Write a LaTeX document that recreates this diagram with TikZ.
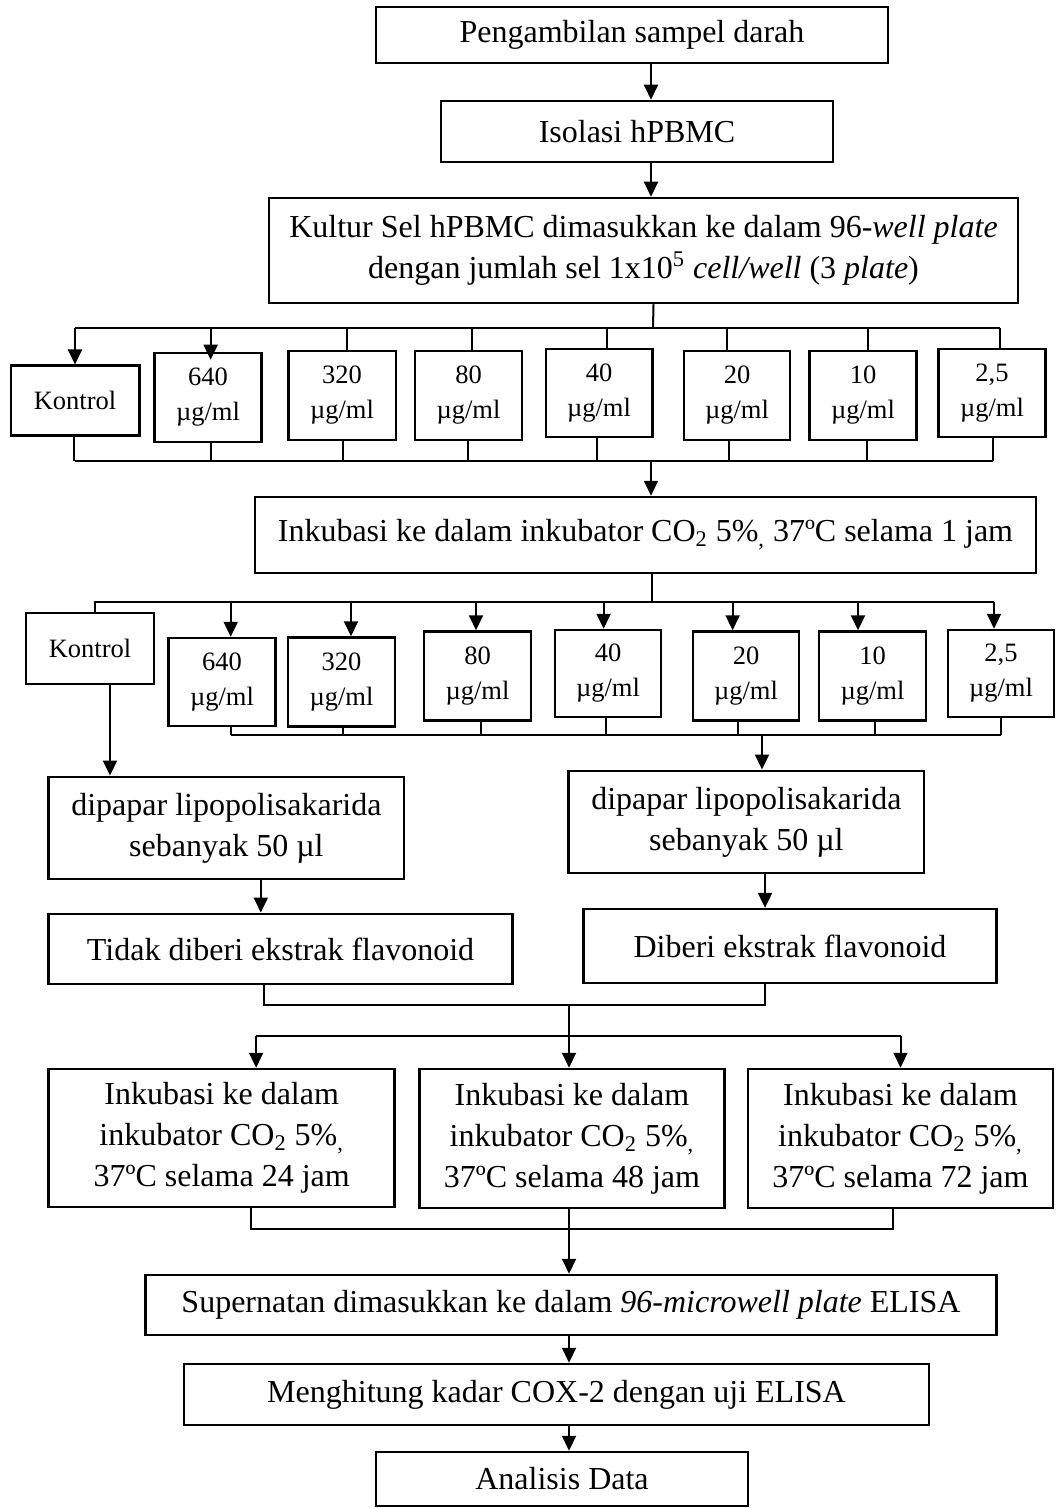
\documentclass[tikz,border=0pt]{standalone}
\usepackage{fontspec}
\setmainfont{Liberation Serif}
\usetikzlibrary{arrows.meta,calc}
\tikzset{
  box/.style={draw, line width=1.25pt, inner sep=0pt, align=center, font=\fontsize{16}{20.5}\selectfont},
  sbox/.style={box, font=\fontsize{13.25}{17.5}\selectfont},
  ln/.style={line width=1pt},
  arr/.style={line width=1pt, -{Triangle[length=7.5pt,width=7pt]}},
}
\begin{document}
\begin{tikzpicture}[x=0.5pt,y=-0.5pt]
\useasboundingbox[fill=white] (0,0) rectangle (1055,1508);
% main column
\node[box, minimum width=256pt, minimum height=28pt] (b1) at (632,35) {Pengambilan sampel darah};
\node[box, minimum width=196pt, minimum height=30.5pt] (b2) at (637,131.5) {Isolasi hPBMC};
\node[box, minimum width=374.5pt, minimum height=52.5pt] (b3) at (643.5,250.5)
  {Kultur Sel hPBMC dimasukkan ke dalam 96-\textit{well plate}\\dengan jumlah sel 1x10\textsuperscript{5} \textit{cell/well} (3 \textit{plate})};
\draw[arr] (b1.south -| 651,0) -- (b2.north -| 651,0);
\draw[arr] (b2.south -| 651,0) -- (b3.north -| 651,0);
% row 1
\node[sbox, minimum width=64.25pt, minimum height=35pt] (k1) at (75,400.7) {Kontrol};
\node[sbox, minimum width=53.5pt, minimum height=44.5pt] (a1) at (208,397.5) {640\\µg/ml};
\node[sbox, minimum width=53.75pt, minimum height=44.5pt] (a2) at (342,395.5) {320\\µg/ml};
\node[sbox, minimum width=53.5pt, minimum height=44.5pt] (a3) at (468.5,395.5) {80\\µg/ml};
\node[sbox, minimum width=53.25pt, minimum height=44pt] (a4) at (599,393) {40\\µg/ml};
\node[sbox, minimum width=53pt, minimum height=44.5pt] (a5) at (737,395.5) {20\\µg/ml};
\node[sbox, minimum width=53.3pt, minimum height=44.5pt] (a6) at (863,395.5) {10\\µg/ml};
\node[sbox, minimum width=53.3pt, minimum height=44pt] (a7) at (992,393) {2,5\\µg/ml};
\coordinate (j1) at (653,328);
\draw[ln] ([xshift=5pt]b3.south) -- (j1);
\draw[ln] (k1.north |- j1) -- ([xshift=3.75pt]a7.north |- j1);
\draw[arr] (k1.north |- j1) -- (k1.north);
\draw[arr] ([xshift=1.3pt]a1.north |- j1) -- ([xshift=1.3pt,yshift=-4pt]a1.north);
\foreach \n/\s in {a2/2.5,a3/1.5,a4/4,a5/-5,a6/2.5,a7/3.75}
  \draw[ln] ([xshift=\s pt]\n.north |- j1) -- ([xshift=\s pt]\n.north);
\coordinate (j2) at (651,461);
\draw[ln] (k1.south |- j2) -- ([xshift=0.5pt]a7.south |- j2);
\foreach \n/\s in {k1/-0.5,a1/1.3,a2/0.5,a3/-0.5,a4/-1,a5/-4,a6/2,a7/0.5}
  \draw[ln] ([xshift=\s pt]\n.south) -- ([xshift=\s pt]\n.south |- j2);
% incubation 1 h
\node[box, minimum width=390.5pt, minimum height=38pt] (i1) at (645.5,535)
  {Inkubasi ke dalam inkubator CO\textsubscript{2} 5\%\textsubscript{,} 37ºC selama 1 jam};
\draw[arr] (j2) -- (j2 |- i1.north);
% row 2
\node[sbox, minimum width=64pt, minimum height=35.5pt] (k2) at (90,648.5) {Kontrol};
\node[sbox, minimum width=53.5pt, minimum height=44pt] (p1) at (222,682) {640\\µg/ml};
\node[sbox, minimum width=53.5pt, minimum height=44.5pt] (p2) at (341.5,682) {320\\µg/ml};
\node[sbox, minimum width=53.5pt, minimum height=44.5pt] (p3) at (477.5,676) {80\\µg/ml};
\node[sbox, minimum width=53pt, minimum height=43.5pt] (p4) at (608,673.5) {40\\µg/ml};
\node[sbox, minimum width=53pt, minimum height=44.5pt] (p5) at (746,676) {20\\µg/ml};
\node[sbox, minimum width=53.5pt, minimum height=44.5pt] (p6) at (872.5,676) {10\\µg/ml};
\node[sbox, minimum width=53.2pt, minimum height=43.5pt] (p7) at (1001,673.5) {2,5\\µg/ml};
\coordinate (j3) at (652,602);
\draw[ln] (j3 |- i1.south) -- (j3);
\draw[ln] ([xshift=2.5pt]k2.north) |- ([xshift=-3.5pt]p7.north |- j3);
\foreach \n/\s in {p1/4.35,p2/4.75,p3/-0.75,p4/-2.2,p5/-6.7,p6/-7.25,p7/-3.5}
  \draw[arr] ([xshift=\s pt]\n.north |- j3) -- ([xshift=\s pt]\n.north);
\coordinate (j4) at (762,735);
\draw[ln] ([xshift=4.35pt]p1.south |- j4) -- (p7.south |- j4);
\foreach \n/\s in {p1/4.35,p2/0.75,p3/1.75,p4/-1,p5/-4,p6/1.25,p7/0}
  \draw[ln] ([xshift=\s pt]\n.south) -- ([xshift=\s pt]\n.south |- j4);
% LPS exposure
\node[box, minimum width=177.7pt, minimum height=51.2pt] (d1) at (226.4,828) {dipapar lipopolisakarida\\sebanyak 50 µl};
\node[box, minimum width=177.7pt, minimum height=51.2pt] (d2) at (746.4,822) {dipapar lipopolisakarida\\sebanyak 50 µl};
\draw[arr] ([xshift=10pt]k2.south) -- ([xshift=10pt]k2.south |- d1.north);
\draw[arr] (j4) -- (j4 |- d2.north);
\node[box, minimum width=231.9pt, minimum height=35.2pt] (t1) at (280.6,949) {Tidak diberi ekstrak flavonoid};
\node[box, minimum width=206.5pt, minimum height=36.9pt] (t2) at (790,946) {Diberi ekstrak flavonoid};
\draw[arr] ([xshift=17.2pt]d1.south) -- ([xshift=17.2pt]d1.south |- t1.north);
\draw[arr] ([xshift=9.3pt]d2.south) -- ([xshift=9.3pt]d2.south |- t2.north);
\coordinate (j5) at (569,1005);
\coordinate (j6) at (569,1036);
\draw[ln] ([xshift=-8.3pt]t1.south) |- (j5) -| ([xshift=-12.5pt]t2.south);
\draw[ln] (j5) -- (j6);
% incubation 24/48/72 h
\node[box, minimum width=173pt, minimum height=69pt] (c1) at (221.7,1138) {Inkubasi ke dalam\\inkubator CO\textsubscript{2} 5\%\textsubscript{,}\\37ºC selama 24 jam};
\node[box, minimum width=152.4pt, minimum height=69.5pt] (c2) at (572,1138.5) {Inkubasi ke dalam\\inkubator CO\textsubscript{2} 5\%\textsubscript{,}\\37ºC selama 48 jam};
\node[box, minimum width=152.5pt, minimum height=69.5pt] (c3) at (900.5,1138.5) {Inkubasi ke dalam\\inkubator CO\textsubscript{2} 5\%\textsubscript{,}\\37ºC selama 72 jam};
\draw[ln] ([xshift=17.2pt]c1.north |- j6) -- (c3.north |- j6);
\draw[arr] ([xshift=17.2pt]c1.north |- j6) -- ([xshift=17.2pt]c1.north);
\draw[arr] (j6) -- (j6 |- c2.north);
\draw[arr] (c3.north |- j6) -- (c3.north);
\coordinate (j7) at (569,1229);
\draw[ln] ([xshift=14.4pt]c1.south) |- ([xshift=-4pt]c3.south |- j7) -- ([xshift=-4pt]c3.south);
% final steps
\node[box, minimum width=425.5pt, minimum height=30pt] (s1) at (571,1305) {Supernatan dimasukkan ke dalam \textit{96-microwell plate} ELISA};
\node[box, minimum width=372.5pt, minimum height=30.5pt] (m1) at (556.5,1394.5) {Menghitung kadar COX-2 dengan uji ELISA};
\node[box, minimum width=186pt, minimum height=27pt] (an) at (562,1479) {Analisis Data};
\draw[arr] (j7 |- c2.south) -- (j7 |- s1.north);
\draw[arr] (j7 |- s1.south) -- (j7 |- m1.north);
\draw[arr] (j7 |- m1.south) -- (j7 |- an.north);
\end{tikzpicture}
\end{document}
